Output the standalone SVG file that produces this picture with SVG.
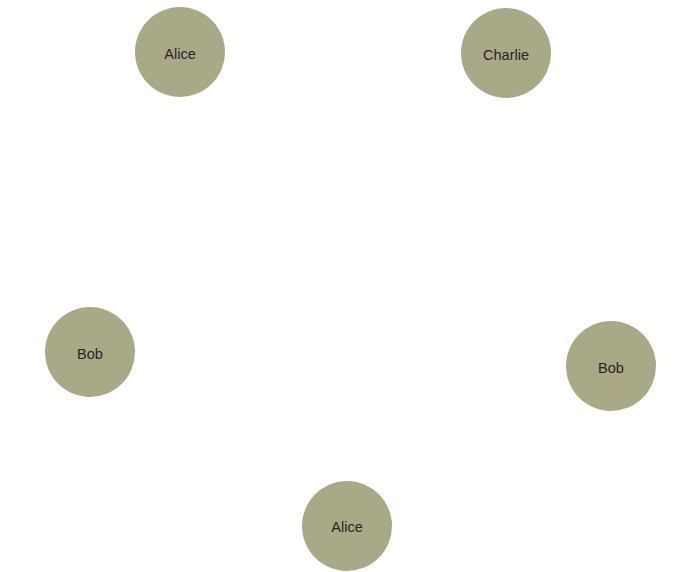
<svg xmlns="http://www.w3.org/2000/svg" width="682" height="572" viewBox="0 0 682 572">
<style>
.node circle{fill:#a9a987;stroke:none}
.node text{font-family:"Liberation Sans",Arial,sans-serif;font-size:14.5px;fill:#262626;text-anchor:middle;dominant-baseline:central}
</style>
<rect width="682" height="572" fill="#fff"/>
<g id="connectors"></g>
<g id="node-alice-1" class="node"><circle cx="180" cy="52" r="45"/><text x="180" y="54">Alice</text></g>
<g id="node-charlie" class="node"><circle cx="506" cy="53" r="45"/><text x="506" y="55">Charlie</text></g>
<g id="node-bob-1" class="node"><circle cx="90" cy="352" r="45"/><text x="90" y="354">Bob</text></g>
<g id="node-bob-2" class="node"><circle cx="611" cy="366" r="45"/><text x="611" y="368">Bob</text></g>
<g id="node-alice-2" class="node"><circle cx="347" cy="526" r="45"/><text x="347" y="527">Alice</text></g>
</svg>
